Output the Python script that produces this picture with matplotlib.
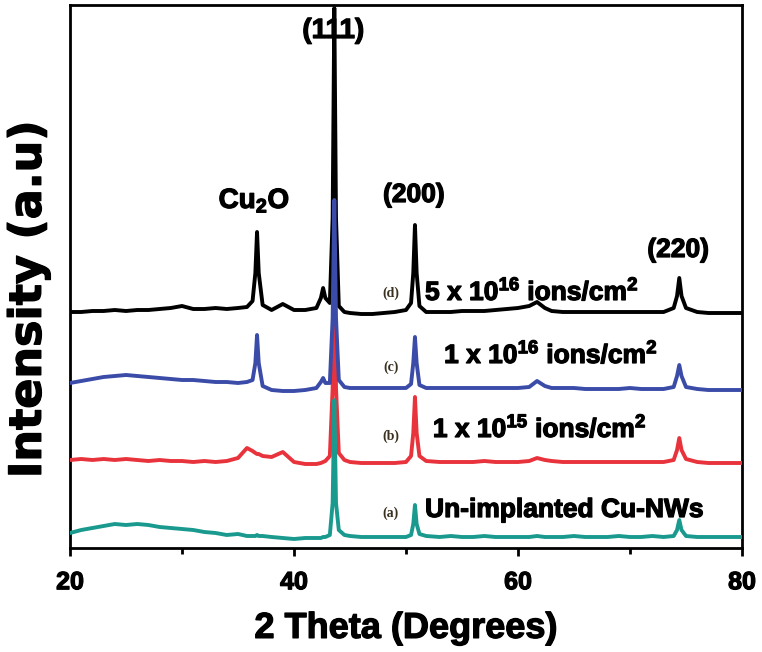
import matplotlib
matplotlib.use("Agg")
import matplotlib.pyplot as plt
import matplotlib.patheffects as pe

plt.rcParams['font.family'] = ['Liberation Sans', 'DejaVu Sans']
plt.rcParams['font.weight'] = 'bold'
plt.rcParams['mathtext.fontset'] = 'custom'
plt.rcParams['mathtext.rm'] = 'Liberation Sans:bold'
plt.rcParams['mathtext.it'] = 'Liberation Sans:bold'
plt.rcParams['mathtext.bf'] = 'Liberation Sans:bold'
plt.rcParams['mathtext.default'] = 'bf'

# ---- data (2 theta grid in degrees, stacked intensities in a.u.) ----
two_theta = [20, 21, 22, 23, 24, 25, 26, 27, 28, 29, 30, 31, 32, 33, 34, 35,
             35.8, 36.3, 36.55, 36.7, 36.85, 37.2, 38, 39, 40, 41, 42, 42.4,
             42.6, 42.8, 43.2, 43.45, 43.6, 43.75, 44.0, 44.5, 45, 46, 47, 48,
             49, 50, 50.45, 50.65, 50.8, 50.95, 51.2, 51.8, 53, 54, 55, 56, 57,
             58, 59, 60, 61, 61.7, 62.4, 63, 64, 65, 66, 67, 68, 69, 70, 71, 72,
             73, 73.9, 74.2, 74.4, 74.6, 75.0, 76, 77, 78, 79, 80]

int_a = [15, 18, 20, 22, 24, 23, 24, 23, 21, 20, 19, 18, 16, 15, 13, 14,
         12, 12, 12, 13, 12, 12, 11, 10, 9, 10, 10, 10,
         11, 11, 13, 45, 148, 45, 18, 13, 12, 11, 11, 11,
         11, 11, 13, 24, 43, 24, 14, 12, 11, 12, 11, 11, 12,
         11, 11, 11, 11, 12, 11, 11, 11, 12, 11, 11, 11, 12, 11, 11, 12,
         11, 12, 18, 28, 18, 12, 11, 11, 11, 11, 11]

int_b = [88, 89, 88, 89, 88, 89, 88, 87, 88, 87, 87, 86, 87, 86, 87, 90,
         100, 97, 95, 94, 94, 92, 91, 96, 86, 84, 84, 85,
         86, 87, 92, 160, 303, 160, 95, 88, 86, 85, 85, 85,
         85, 86, 92, 115, 151, 115, 92, 87, 86, 86, 86, 86, 87,
         86, 86, 86, 87, 90, 88, 87, 86, 86, 86, 86, 86, 86, 86, 86, 86,
         86, 88, 98, 110, 98, 89, 86, 85, 85, 85, 85]

int_c = [165, 167, 169, 171, 172, 173, 172, 171, 170, 169, 168, 168, 167, 166, 166, 165,
         166, 168, 185, 213, 185, 162, 158, 157, 157, 158, 160, 166,
         170, 165, 165, 230, 348, 230, 168, 161, 160, 160, 160, 160,
         160, 160, 164, 185, 211, 185, 163, 160, 160, 160, 160, 160, 160,
         160, 160, 160, 161, 167, 162, 160, 160, 160, 159, 159, 159, 159, 160, 159, 159,
         159, 161, 172, 183, 172, 161, 159, 158, 158, 158, 158]

int_d = [236, 236, 237, 237, 238, 237, 238, 238, 239, 240, 242, 239, 239, 240, 239, 240,
         241, 247, 275, 316, 275, 243, 238, 244, 238, 238, 240, 250,
         260, 250, 245, 330, 540, 330, 242, 236, 235, 234, 234, 235,
         236, 238, 245, 275, 323, 275, 242, 236, 236, 236, 237, 237, 237,
         238, 239, 240, 242, 246, 240, 237, 236, 236, 236, 236, 236, 236, 236, 236, 236,
         236, 240, 252, 270, 252, 240, 236, 235, 235, 235, 235]

series_colors = {'d': '#000000', 'b': '#e8333c', 'c': '#3b4ba8', 'a': '#1a9a8f'}
xticks = [20, 40, 60, 80]

heavy = [pe.withStroke(linewidth=0.9, foreground='black')]

fig = plt.figure(figsize=(7.62, 6.52), dpi=100)
ax = fig.add_axes([70 / 762, 104 / 652, 672 / 762, 543 / 652])

lw = 2.8
ax.plot(two_theta, int_d, color=series_colors['d'], lw=lw, zorder=2)
ax.plot(two_theta, int_b, color=series_colors['b'], lw=lw, zorder=3)
ax.plot(two_theta, int_c, color=series_colors['c'], lw=lw, zorder=4)
ax.plot(two_theta, int_a, color=series_colors['a'], lw=lw, zorder=5)

ax.set_xlim(20, 80)
ax.set_ylim(0, 543)
ax.set_yticks([])
ax.set_xticks(xticks)
ax.set_xticklabels([str(t) for t in xticks], fontweight='bold')
ax.set_xticks([30, 50, 70], minor=True)
ax.tick_params(axis='x', which='major', direction='out', length=6, width=2,
               labelsize=18, pad=10)
ax.tick_params(axis='x', which='minor', direction='out', length=4, width=2)
for lab in ax.get_xticklabels():
    lab.set_path_effects(heavy)
for s in ax.spines.values():
    s.set_linewidth(2)

ax.set_xlabel('2 Theta (Degrees)', fontsize=26, fontweight='bold', labelpad=12,
              path_effects=heavy)
ax.set_ylabel('Intensity (a.u)', fontsize=32, fontweight='bold',
              family=['DejaVu Sans'], path_effects=heavy)
ax.yaxis.set_label_coords(-0.03, 0.4586)

# peak labels
ax.text(36.45, 340, 'Cu$_2$O', fontsize=20, ha='center', va='baseline',
        fontweight='bold', path_effects=heavy)
ax.text(43.5, 510, '(111)', fontsize=20, ha='center', va='baseline',
        fontweight='bold', path_effects=heavy)
ax.text(50.7, 346, '(200)', fontsize=19, ha='center', va='baseline',
        fontweight='bold', path_effects=heavy)
ax.text(74.3, 291, '(220)', fontsize=19, ha='center', va='baseline',
        fontweight='bold', path_effects=heavy)

# series labels
serif = ['Liberation Serif', 'DejaVu Serif']
for yv, tag in [(251, '(d)'), (177, '(c)'), (108, '(b)'), (31, '(a)')]:
    ax.text(48.66, yv, tag, fontsize=10, family=serif, ha='center', va='baseline',
            color='#3a3020', fontweight='bold')

ax.text(51.7, 248, '5 x 10$^{16}$ ions/cm$^{2}$', fontsize=19, ha='left',
        va='baseline', path_effects=heavy)
ax.text(53.4, 185, '1 x 10$^{16}$ ions/cm$^{2}$', fontsize=19, ha='left',
        va='baseline', path_effects=heavy)
ax.text(52.4, 111, '1 x 10$^{15}$ ions/cm$^{2}$', fontsize=19, ha='left',
        va='baseline', path_effects=heavy)
ax.text(51.7, 31, 'Un-implanted Cu-NWs', fontsize=19, ha='left', va='baseline',
        path_effects=heavy)

fig.savefig('out.png', dpi=100)
